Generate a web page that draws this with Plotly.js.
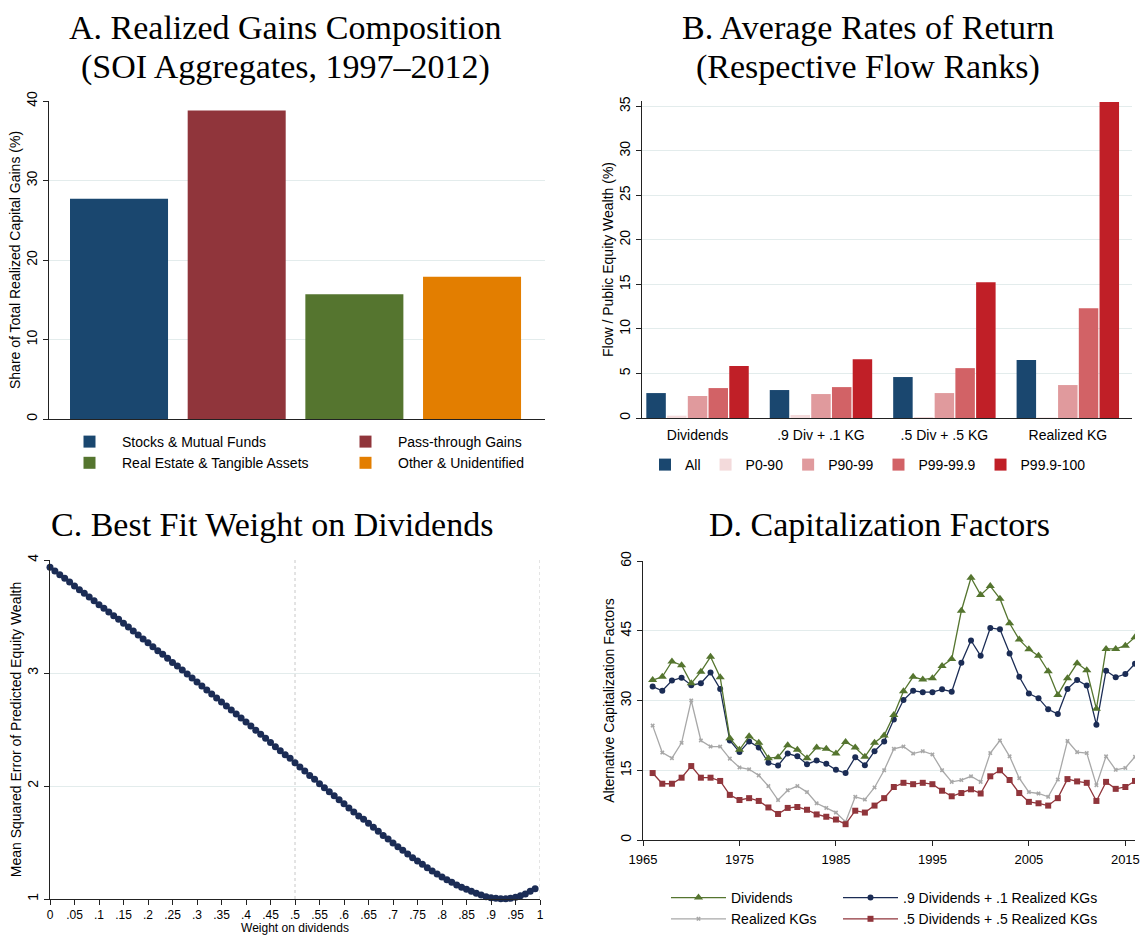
<!DOCTYPE html>
<html>
<head>
<meta charset="utf-8">
<script src="https://cdn.plot.ly/plotly-3.0.1.min.js"></script>
<style>html,body{margin:0;padding:0;background:#fff;overflow:hidden;}#chart{width:1140px;height:935px;overflow:hidden;}</style>
</head>
<body>
<div id="chart"></div>
<script>
// ---------- Panel A data ----------
const catsA = ['Stocks & Mutual Funds', 'Pass-through Gains', 'Real Estate & Tangible Assets', 'Other & Unidentified'];
const valsA = [27.7, 38.8, 15.7, 17.9];
const posA = [0, 1, 2, 3];

// ---------- Panel B data ----------
const catsB = ['Dividends', '.9 Div + .1 KG', '.5 Div + .5 KG', 'Realized KG'];
const groupsB = ['All', 'P0-90', 'P90-99', 'P99-99.9', 'P99.9-100'];
const bAll = [2.8, 3.14, 4.6, 6.5];
const bP0_90 = [0.26, 0.34, 0.11, 0.05];
const bP90_99 = [2.47, 2.69, 2.8, 3.7];
const bP99_999 = [3.36, 3.47, 5.6, 12.33];
const bP999_100 = [5.83, 6.61, 15.24, 35.5];

// ---------- Panel C data ----------
const weightsC = [0, .01, .02, .03, .04, .05, .06, .07, .08, .09,
  .10, .11, .12, .13, .14, .15, .16, .17, .18, .19,
  .20, .21, .22, .23, .24, .25, .26, .27, .28, .29,
  .30, .31, .32, .33, .34, .35, .36, .37, .38, .39,
  .40, .41, .42, .43, .44, .45, .46, .47, .48, .49,
  .50, .51, .52, .53, .54, .55, .56, .57, .58, .59,
  .60, .61, .62, .63, .64, .65, .66, .67, .68, .69,
  .70, .71, .72, .73, .74, .75, .76, .77, .78, .79,
  .80, .81, .82, .83, .84, .85, .86, .87, .88, .89,
  .90, .91, .92, .93, .94, .95, .96, .97, .98, .99];
const mseC = [3.935, 3.903, 3.870, 3.838, 3.805, 3.770, 3.737, 3.705, 3.673, 3.640,
  3.605, 3.572, 3.540, 3.507, 3.475, 3.440, 3.407, 3.372, 3.336, 3.301,
  3.268, 3.233, 3.198, 3.165, 3.130, 3.094, 3.062, 3.027, 2.991, 2.956,
  2.920, 2.885, 2.850, 2.814, 2.779, 2.743, 2.708, 2.673, 2.637, 2.602,
  2.566, 2.531, 2.493, 2.457, 2.422, 2.386, 2.348, 2.313, 2.277, 2.245,
  2.206, 2.168, 2.133, 2.094, 2.059, 2.021, 1.985, 1.950, 1.914, 1.879,
  1.844, 1.805, 1.770, 1.735, 1.705, 1.670, 1.634, 1.599, 1.563, 1.531,
  1.496, 1.463, 1.431, 1.398, 1.366, 1.336, 1.307, 1.277, 1.248, 1.221,
  1.195, 1.171, 1.148, 1.124, 1.103, 1.086, 1.068, 1.050, 1.035, 1.021,
  1.012, 1.006, 1.003, 1.003, 1.006, 1.015, 1.029, 1.044, 1.068, 1.091];
const tickValsC = [0, .05, .1, .15, .2, .25, .3, .35, .4, .45, .5, .55, .6, .65, .7, .75, .8, .85, .9, .95, 1];
const tickTextC = ['0', '.05', '.1', '.15', '.2', '.25', '.3', '.35', '.4', '.45', '.5', '.55', '.6', '.65', '.7', '.75', '.8', '.85', '.9', '.95', '1'];

// ---------- Panel D data ----------
const yearsD = [1966, 1967, 1968, 1969, 1970, 1971, 1972, 1973, 1974, 1975,
  1976, 1977, 1978, 1979, 1980, 1981, 1982, 1983, 1984, 1985,
  1986, 1987, 1988, 1989, 1990, 1991, 1992, 1993, 1994, 1995,
  1996, 1997, 1998, 1999, 2000, 2001, 2002, 2003, 2004, 2005,
  2006, 2007, 2008, 2009, 2010, 2011, 2012, 2013, 2014, 2015, 2016];
const dDividends = [34.4, 35.1, 38.4, 37.6, 33.7, 36.2, 39.4, 35.0, 21.9, 19.4,
  22.3, 20.9, 17.6, 17.8, 20.4, 19.4, 17.6, 19.9, 19.6, 18.6,
  21.1, 19.9, 17.9, 20.9, 22.5, 26.9, 32.0, 35.1, 34.5, 34.8,
  37.4, 38.9, 49.3, 56.4, 52.7, 54.6, 51.9, 46.6, 43.1, 41.0,
  39.6, 36.3, 31.2, 34.8, 38.0, 36.5, 28.2, 41.1, 41.1, 41.8, 43.6];
const dMix91 = [33.0, 32.1, 34.3, 34.9, 33.3, 33.7, 36.0, 32.5, 21.4, 18.9,
  21.2, 19.9, 16.6, 16.0, 18.6, 18.0, 16.3, 17.1, 16.4, 15.1,
  14.4, 17.8, 16.1, 19.1, 21.2, 25.9, 30.1, 32.1, 31.8, 31.8,
  32.4, 31.9, 38.1, 42.9, 39.6, 45.6, 45.3, 40.1, 35.1, 31.5,
  30.5, 28.1, 27.1, 32.5, 34.4, 33.2, 24.8, 36.4, 35.0, 35.7, 37.9];
const dRealizedKG = [24.6, 18.8, 17.6, 20.9, 30.0, 21.4, 20.1, 20.1, 17.5, 15.6,
  15.2, 13.9, 11.6, 8.6, 10.7, 11.6, 10.3, 7.9, 6.9, 5.9,
  3.9, 9.3, 8.7, 11.3, 15.0, 19.6, 20.1, 18.6, 19.1, 18.4,
  15.0, 12.5, 12.9, 13.7, 12.5, 18.7, 21.4, 18.0, 13.3, 10.3,
  10.0, 9.3, 13.0, 21.3, 18.9, 18.7, 11.8, 18.0, 15.1, 15.5, 17.9];
const dMix55 = [14.4, 12.1, 12.1, 13.4, 15.9, 13.4, 13.4, 12.7, 9.7, 8.6,
  9.0, 8.4, 7.0, 5.6, 6.9, 7.1, 6.5, 5.5, 5.0, 4.4,
  3.4, 6.3, 5.9, 7.4, 9.0, 11.4, 12.3, 12.0, 12.3, 12.0,
  10.6, 9.4, 10.1, 10.9, 10.0, 13.7, 15.0, 12.9, 10.1, 8.2,
  7.9, 7.4, 9.0, 13.1, 12.6, 12.3, 8.4, 12.5, 11.0, 11.4, 12.7];
const tickValsD = [1965, 1975, 1985, 1995, 2005, 2015];

// ---------- styling ----------
const W = 1140, H = 935;
const fx = p => p / W;
const fy = p => 1 - p / H;
const SANS = 'Liberation Sans, Arial, sans-serif';
const SERIF = 'Liberation Serif, Times New Roman, serif';
const GRID = '#e3ecec';
const AX = '#222';
const FS = 14;
const TS = 34;
const colA = ['#1a476f', '#90353b', '#55752f', '#e37e00'];
const colB = ['#1a476f', '#f3dadb', '#e09a9d', '#d26266', '#c01f27'];
const NAVY2 = '#1b2c55';

const traces = [];
const legendOfA = ['legend', 'legend2', 'legend', 'legend2'];
for (let i = 0; i < catsA.length; i++) {
  traces.push({
    type: 'bar', name: catsA[i], x: [posA[i]], y: [valsA[i]],
    width: 0.833, offset: -0.4165,
    marker: {color: colA[i]}, xaxis: 'x', yaxis: 'y', legend: legendOfA[i]
  });
}
const seriesB = [bAll, bP0_90, bP90_99, bP99_999, bP999_100];
for (let i = 0; i < groupsB.length; i++) {
  traces.push({
    type: 'bar', name: groupsB[i], x: catsB, y: seriesB[i],
    marker: {color: colB[i]}, xaxis: 'x2', yaxis: 'y2', legend: 'legend3'
  });
}
traces.push({
  type: 'scatter', mode: 'markers', x: weightsC, y: mseC, showlegend: false,
  marker: {color: NAVY2, size: 7}, cliponaxis: false, xaxis: 'x3', yaxis: 'y3'
});
traces.push({
  type: 'scatter', mode: 'lines+markers', name: 'Realized KGs', x: yearsD, y: dRealizedKG,
  line: {color: '#a8a8a8', width: 1.3}, marker: {color: '#a8a8a8', size: 4, symbol: 'x'},
  xaxis: 'x4', yaxis: 'y4', legend: 'legend4', legendrank: 2
});
traces.push({
  type: 'scatter', mode: 'lines+markers', name: '.5 Dividends + .5 Realized KGs', x: yearsD, y: dMix55,
  line: {color: '#90353b', width: 1.3}, marker: {color: '#90353b', size: 6, symbol: 'square'},
  xaxis: 'x4', yaxis: 'y4', legend: 'legend5', legendrank: 2
});
traces.push({
  type: 'scatter', mode: 'lines+markers', name: '.9 Dividends + .1 Realized KGs', x: yearsD, y: dMix91,
  line: {color: NAVY2, width: 1.3}, marker: {color: NAVY2, size: 6, symbol: 'circle'},
  xaxis: 'x4', yaxis: 'y4', legend: 'legend5', legendrank: 1
});
traces.push({
  type: 'scatter', mode: 'lines+markers', name: 'Dividends', x: yearsD, y: dDividends,
  line: {color: '#55752f', width: 1.3}, marker: {color: '#55752f', size: 8, symbol: 'triangle-up'},
  xaxis: 'x4', yaxis: 'y4', legend: 'legend4', legendrank: 1
});

function yax(domain, range, dtick, title, anchor) {
  return {
    domain: domain, range: range, dtick: dtick, anchor: anchor,
    tickangle: -90, ticks: 'outside', ticklen: 5, tickcolor: AX, tickwidth: 1,
    showline: true, linecolor: AX, linewidth: 1, showgrid: true, gridcolor: GRID, gridwidth: 1,
    zeroline: false, tickfont: {family: SANS, size: FS, color: '#000'},
    title: {text: title, font: {family: SANS, size: FS, color: '#000'}, standoff: 0},
    automargin: false, fixedrange: true
  };
}
const legendBase = {
  orientation: 'v', xanchor: 'left', yanchor: 'top', bgcolor: 'rgba(0,0,0,0)',
  font: {family: SANS, size: FS, color: '#000'}, tracegroupgap: 0, itemclick: false, itemdoubleclick: false
};
function title(x, y, text) {
  return {xref: 'paper', yref: 'paper', x: fx(x), y: fy(y), xanchor: 'center', yanchor: 'middle',
    showarrow: false, text: text, font: {family: SERIF, size: TS, color: '#000'}};
}

const layout = {
  width: W, height: H, margin: {l: 0, r: 0, t: 0, b: 0},
  paper_bgcolor: '#fff', plot_bgcolor: '#fff', showlegend: true,
  barmode: 'group', bargap: 0.16, bargroupgap: 0.06,
  font: {family: SANS, size: FS, color: '#000'},
  xaxis: {domain: [fx(49), fx(545)], range: [-0.595, 3.62], anchor: 'y', showticklabels: false,
    ticks: '', showgrid: false, zeroline: false, showline: true, linecolor: AX, linewidth: 1, fixedrange: true},
  yaxis: yax([fy(419), fy(101)], [0, 40], 10, 'Share of Total Realized Capital Gains (%)', 'x'),
  xaxis2: {domain: [fx(642), fx(1132)], range: [-0.45, 3.52], anchor: 'y2', type: 'category',
    ticks: '', showgrid: false, zeroline: false, showline: true, linecolor: AX, linewidth: 1,
    ticklabelstandoff: 4, tickfont: {family: SANS, size: FS, color: '#000'}, fixedrange: true},
  yaxis2: yax([fy(418), fy(101)], [0, 35.6], 5, 'Flow / Public Equity Wealth (%)', 'x2'),
  xaxis3: {domain: [fx(50), fx(540)], range: [0, 1], anchor: 'y3', tickvals: tickValsC, ticktext: tickTextC,
    ticks: 'outside', ticklen: 5, tickcolor: AX, showgrid: false, zeroline: false, showline: true,
    linecolor: AX, linewidth: 1, tickfont: {family: SANS, size: 12, color: '#000'},
    title: {text: 'Weight on dividends', font: {family: SANS, size: 12, color: '#000'}, standoff: 3}, fixedrange: true},
  yaxis3: yax([fy(899), fy(560)], [1, 4], 1, 'Mean Squared Error of Predicted Equity Wealth', 'x3'),
  xaxis4: {domain: [fx(643), fx(1135)], range: [1965, 2016], anchor: 'y4', tickvals: tickValsD,
    ticks: 'outside', ticklen: 5, tickcolor: AX, showgrid: false, zeroline: false, showline: true,
    linecolor: AX, linewidth: 1, ticklabelstandoff: 2, ticklabeloverflow: 'allow',
    tickfont: {family: SANS, size: 13, color: '#000'}, fixedrange: true},
  yaxis4: yax([fy(840), fy(561)], [0, 60], 15, 'Alternative Capitalization Factors', 'x4'),
  legend: Object.assign({}, legendBase, {x: fx(57), y: fy(426), itemwidth: 55}),
  legend2: Object.assign({}, legendBase, {x: fx(333), y: fy(426), itemwidth: 55}),
  legend3: Object.assign({}, legendBase, {orientation: 'h', x: fx(645), y: fy(449)}),
  legend4: Object.assign({}, legendBase, {x: fx(666), y: 0, yanchor: 'bottom', itemwidth: 55}),
  legend5: Object.assign({}, legendBase, {x: fx(838), y: 0, yanchor: 'bottom', itemwidth: 55}),
  shapes: [
    {type: 'line', xref: 'x3', yref: 'y3', x0: 0.5, x1: 0.5, y0: 1, y1: 4, line: {color: '#c8c8c8', width: 1, dash: 'dot'}, layer: 'below'},
    {type: 'line', xref: 'x3', yref: 'y3', x0: 1, x1: 1, y0: 1, y1: 4, line: {color: '#c8c8c8', width: 1, dash: 'dot'}, layer: 'below'}
  ],
  annotations: [
    title(285, 28, 'A. Realized Gains Composition'),
    title(285, 67, '(SOI Aggregates, 1997–2012)'),
    title(868, 28, 'B. Average Rates of Return'),
    title(868, 67, '(Respective Flow Ranks)'),
    title(272, 524, 'C. Best Fit Weight on Dividends'),
    title(879, 524, 'D. Capitalization Factors')
  ]
};

Plotly.newPlot('chart', traces, layout, {displayModeBar: false, staticPlot: true});
</script>
</body>
</html>
